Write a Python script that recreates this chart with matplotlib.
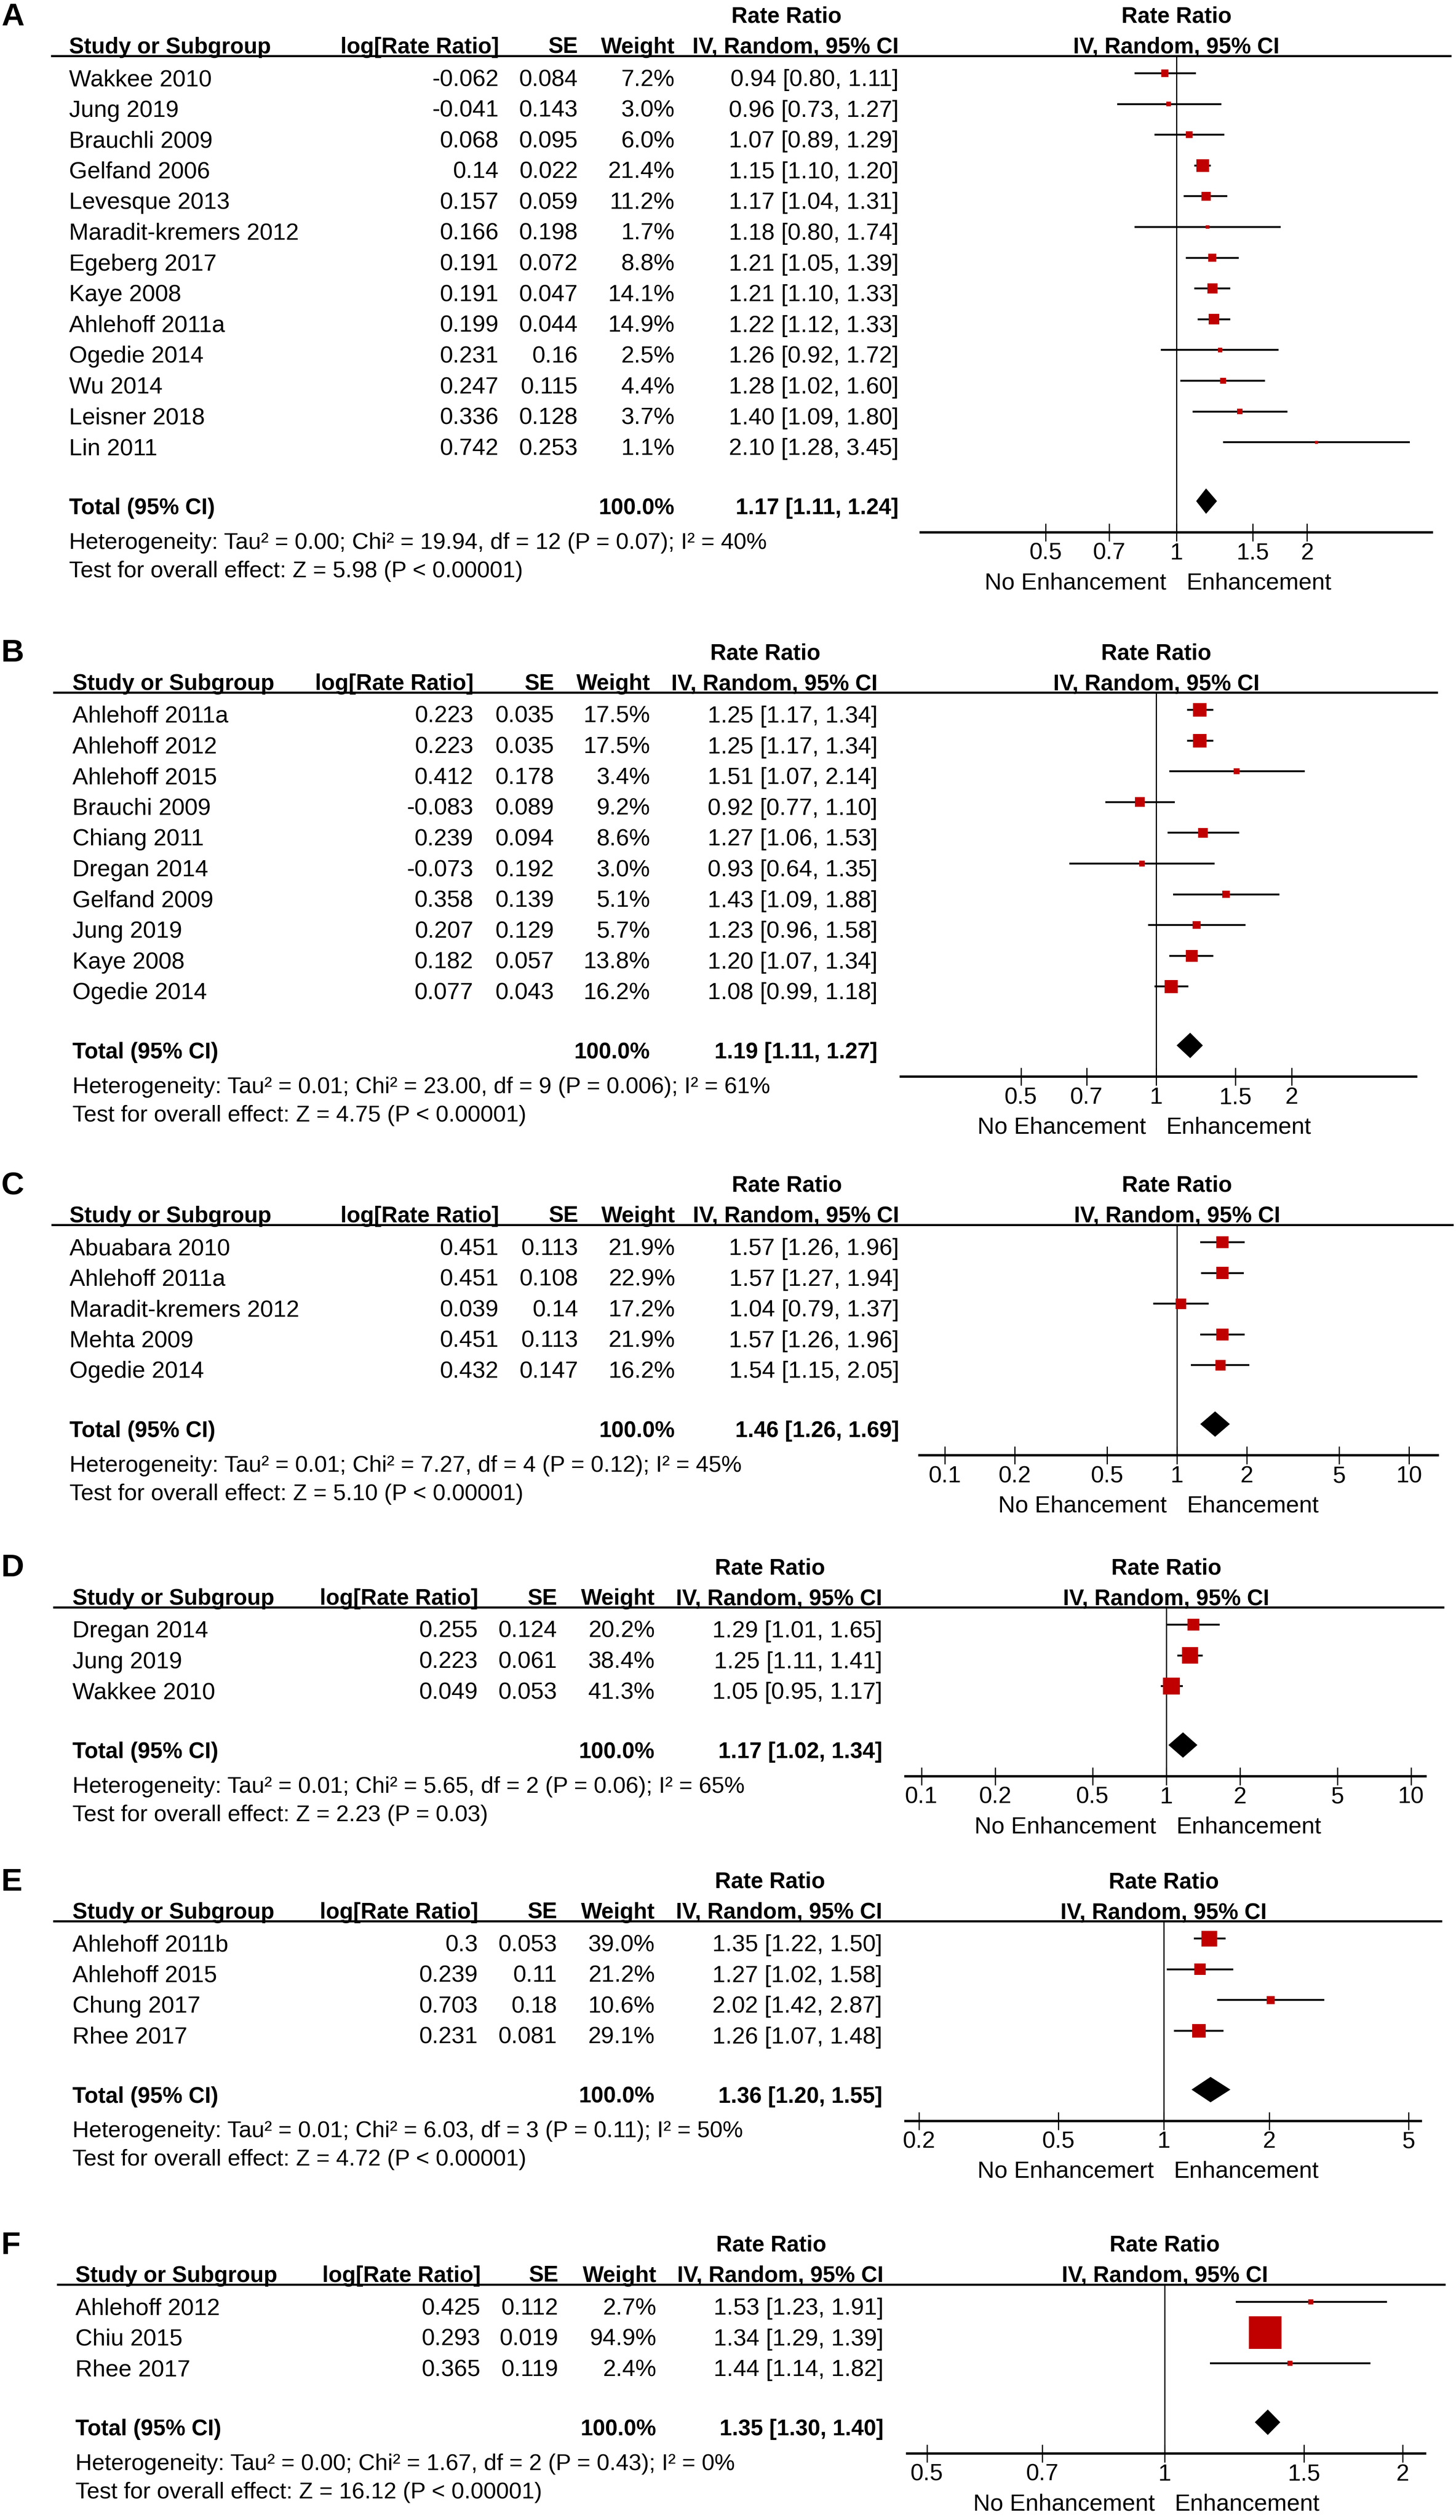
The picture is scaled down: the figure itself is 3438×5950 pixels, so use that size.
import numpy as np
import matplotlib.pyplot as plt
from matplotlib.ticker import NullLocator

plt.rcParams['font.family'] = ['Liberation Sans', 'DejaVu Sans']

W, H = 3438, 5950

# ---------------- data ----------------
a_studies = ["Wakkee 2010", "Jung 2019", "Brauchli 2009", "Gelfand 2006", "Levesque 2013",
             "Maradit-kremers 2012", "Egeberg 2017", "Kaye 2008", "Ahlehoff 2011a",
             "Ogedie 2014", "Wu 2014", "Leisner 2018", "Lin 2011"]
a_logrr = ["-0.062", "-0.041", "0.068", "0.14", "0.157", "0.166", "0.191", "0.191",
           "0.199", "0.231", "0.247", "0.336", "0.742"]
a_se = ["0.084", "0.143", "0.095", "0.022", "0.059", "0.198", "0.072", "0.047",
        "0.044", "0.16", "0.115", "0.128", "0.253"]
a_weight = [7.2, 3.0, 6.0, 21.4, 11.2, 1.7, 8.8, 14.1, 14.9, 2.5, 4.4, 3.7, 1.1]
a_rr = [0.94, 0.96, 1.07, 1.15, 1.17, 1.18, 1.21, 1.21, 1.22, 1.26, 1.28, 1.40, 2.10]
a_lo = [0.80, 0.73, 0.89, 1.10, 1.04, 0.80, 1.05, 1.10, 1.12, 0.92, 1.02, 1.09, 1.28]
a_hi = [1.11, 1.27, 1.29, 1.20, 1.31, 1.74, 1.39, 1.33, 1.33, 1.72, 1.60, 1.80, 3.45]
a_total = (1.17, 1.11, 1.24)
a_het = "Heterogeneity: Tau² = 0.00; Chi² = 19.94, df = 12 (P = 0.07); I² = 40%"
a_test = "Test for overall effect: Z = 5.98 (P < 0.00001)"
a_ticks = [0.5, 0.7, 1, 1.5, 2]
a_ticklabels = ["0.5", "0.7", "1", "1.5", "2"]
a_favours = ("No Enhancement", "Enhancement")

b_studies = ["Ahlehoff 2011a", "Ahlehoff 2012", "Ahlehoff 2015", "Brauchi 2009", "Chiang 2011",
             "Dregan 2014", "Gelfand 2009", "Jung 2019", "Kaye 2008", "Ogedie 2014"]
b_logrr = ["0.223", "0.223", "0.412", "-0.083", "0.239", "-0.073", "0.358", "0.207", "0.182", "0.077"]
b_se = ["0.035", "0.035", "0.178", "0.089", "0.094", "0.192", "0.139", "0.129", "0.057", "0.043"]
b_weight = [17.5, 17.5, 3.4, 9.2, 8.6, 3.0, 5.1, 5.7, 13.8, 16.2]
b_rr = [1.25, 1.25, 1.51, 0.92, 1.27, 0.93, 1.43, 1.23, 1.20, 1.08]
b_lo = [1.17, 1.17, 1.07, 0.77, 1.06, 0.64, 1.09, 0.96, 1.07, 0.99]
b_hi = [1.34, 1.34, 2.14, 1.10, 1.53, 1.35, 1.88, 1.58, 1.34, 1.18]
b_total = (1.19, 1.11, 1.27)
b_het = "Heterogeneity: Tau² = 0.01; Chi² = 23.00, df = 9 (P = 0.006); I² = 61%"
b_test = "Test for overall effect: Z = 4.75 (P < 0.00001)"
b_ticks = [0.5, 0.7, 1, 1.5, 2]
b_ticklabels = ["0.5", "0.7", "1", "1.5", "2"]
b_favours = ("No Ehancement", "Enhancement")

c_studies = ["Abuabara 2010", "Ahlehoff 2011a", "Maradit-kremers 2012", "Mehta 2009", "Ogedie 2014"]
c_logrr = ["0.451", "0.451", "0.039", "0.451", "0.432"]
c_se = ["0.113", "0.108", "0.14", "0.113", "0.147"]
c_weight = [21.9, 22.9, 17.2, 21.9, 16.2]
c_rr = [1.57, 1.57, 1.04, 1.57, 1.54]
c_lo = [1.26, 1.27, 0.79, 1.26, 1.15]
c_hi = [1.96, 1.94, 1.37, 1.96, 2.05]
c_total = (1.46, 1.26, 1.69)
c_het = "Heterogeneity: Tau² = 0.01; Chi² = 7.27, df = 4 (P = 0.12); I² = 45%"
c_test = "Test for overall effect: Z = 5.10 (P < 0.00001)"
c_ticks = [0.1, 0.2, 0.5, 1, 2, 5, 10]
c_ticklabels = ["0.1", "0.2", "0.5", "1", "2", "5", "10"]
c_favours = ("No Ehancement", "Ehancement")

d_studies = ["Dregan 2014", "Jung 2019", "Wakkee 2010"]
d_logrr = ["0.255", "0.223", "0.049"]
d_se = ["0.124", "0.061", "0.053"]
d_weight = [20.2, 38.4, 41.3]
d_rr = [1.29, 1.25, 1.05]
d_lo = [1.01, 1.11, 0.95]
d_hi = [1.65, 1.41, 1.17]
d_total = (1.17, 1.02, 1.34)
d_het = "Heterogeneity: Tau² = 0.01; Chi² = 5.65, df = 2 (P = 0.06); I² = 65%"
d_test = "Test for overall effect: Z = 2.23 (P = 0.03)"
d_ticks = [0.1, 0.2, 0.5, 1, 2, 5, 10]
d_ticklabels = ["0.1", "0.2", "0.5", "1", "2", "5", "10"]
d_favours = ("No Enhancement", "Enhancement")

e_studies = ["Ahlehoff 2011b", "Ahlehoff 2015", "Chung 2017", "Rhee 2017"]
e_logrr = ["0.3", "0.239", "0.703", "0.231"]
e_se = ["0.053", "0.11", "0.18", "0.081"]
e_weight = [39.0, 21.2, 10.6, 29.1]
e_rr = [1.35, 1.27, 2.02, 1.26]
e_lo = [1.22, 1.02, 1.42, 1.07]
e_hi = [1.50, 1.58, 2.87, 1.48]
e_total = (1.36, 1.20, 1.55)
e_het = "Heterogeneity: Tau² = 0.01; Chi² = 6.03, df = 3 (P = 0.11); I² = 50%"
e_test = "Test for overall effect: Z = 4.72 (P < 0.00001)"
e_ticks = [0.2, 0.5, 1, 2, 5]
e_ticklabels = ["0.2", "0.5", "1", "2", "5"]
e_favours = ("No Enhancemert", "Enhancement")

f_studies = ["Ahlehoff 2012", "Chiu 2015", "Rhee 2017"]
f_logrr = ["0.425", "0.293", "0.365"]
f_se = ["0.112", "0.019", "0.119"]
f_weight = [2.7, 94.9, 2.4]
f_rr = [1.53, 1.34, 1.44]
f_lo = [1.23, 1.29, 1.14]
f_hi = [1.91, 1.39, 1.82]
f_total = (1.35, 1.30, 1.40)
f_het = "Heterogeneity: Tau² = 0.00; Chi² = 1.67, df = 2 (P = 0.43); I² = 0%"
f_test = "Test for overall effect: Z = 16.12 (P < 0.00001)"
f_ticks = [0.5, 0.7, 1, 1.5, 2]
f_ticklabels = ["0.5", "0.7", "1", "1.5", "2"]
f_favours = ("No Enhancement", "Enhancement")

panels = [
    ("A", a_studies, a_logrr, a_se, a_weight, a_rr, a_lo, a_hi, a_total, a_het, a_test, a_ticks, a_ticklabels, a_favours),
    ("B", b_studies, b_logrr, b_se, b_weight, b_rr, b_lo, b_hi, b_total, b_het, b_test, b_ticks, b_ticklabels, b_favours),
    ("C", c_studies, c_logrr, c_se, c_weight, c_rr, c_lo, c_hi, c_total, c_het, c_test, c_ticks, c_ticklabels, c_favours),
    ("D", d_studies, d_logrr, d_se, d_weight, d_rr, d_lo, d_hi, d_total, d_het, d_test, d_ticks, d_ticklabels, d_favours),
    ("E", e_studies, e_logrr, e_se, e_weight, e_rr, e_lo, e_hi, e_total, e_het, e_test, e_ticks, e_ticklabels, e_favours),
    ("F", f_studies, f_logrr, f_se, f_weight, f_rr, f_lo, f_hi, f_total, f_het, f_test, f_ticks, f_ticklabels, f_favours),
]

# ---------------- layout (pixels) ----------------
# header line y, column x (study, log, se, weight, ci), header line x-range, axis x-range, xlim, max square
layout = {
    "A": dict(line_y=132, cols=(163, 1178, 1365, 1593, 2122), line_x=(120, 3427),
              ax_x=(2174, 3381), xlim=(0.2574, 3.877), sq=30),
    "B": dict(line_y=1635, cols=(171, 1118, 1309, 1535, 2072), line_x=(125, 3395),
              ax_x=(2127, 3344), xlim=(0.270, 3.79), sq=32),
    "C": dict(line_y=2892, cols=(164, 1178, 1366, 1594, 2123), line_x=(121, 3432),
              ax_x=(2171, 3395), xlim=(0.0777, 13.3), sq=29),
    "D": dict(line_y=3795, cols=(171, 1129, 1316, 1546, 2083), line_x=(125, 3410),
              ax_x=(2138, 3366), xlim=(0.0860, 11.45), sq=40),
    "E": dict(line_y=4536, cols=(171, 1129, 1316, 1546, 2083), line_x=(125, 3405),
              ax_x=(2138, 3355), xlim=(0.183, 5.42), sq=37),
    "F": dict(line_y=5394, cols=(178, 1135, 1319, 1550, 2086), line_x=(134, 3413),
              ax_x=(2142, 3365), xlim=(0.472, 2.135), sq=77),
}
ROW = 72.6
RED = "#c00000"
FS = 40
FS_B = 38

fig = plt.figure(figsize=(W / 100, H / 100), dpi=100)
bg = fig.add_axes([0, 0, 1, 1])
bg.set_xlim(0, W)
bg.set_ylim(H, 0)
bg.axis("off")


def txt(x, y, s, ha="left", bold=False, size=None, ax=None):
    # y is the visual centre of the capital letters
    a = ax if ax is not None else bg
    fs = size if size else (FS_B if bold else FS)
    a.text(x, y + 0.36 * fs * 100 / 72, s, ha=ha, va="baseline", fontsize=fs,
           fontweight="bold" if bold else "normal", color="black")


for (letter, studies, logrr, se, weight, rr, lo, hi, total, het, test,
     ticks, ticklabels, favours) in panels:
    L = layout[letter]
    ly = L["line_y"]
    xs, xlog, xse, xw, xci = L["cols"]
    n = len(studies)
    rows = ly + 51 + ROW * np.arange(n)
    total_y = rows[-1] + 141
    axis_y = total_y + 62

    # panel letter and headers
    bg.text(3, ly - 92, letter, fontsize=54, fontweight="bold", va="center", ha="left")
    txt(xci - 265, ly - 97, "Rate Ratio", ha="center", bold=True)
    txt(xs, ly - 25, "Study or Subgroup", bold=True)
    txt(xlog, ly - 25, "log[Rate Ratio]", ha="right", bold=True)
    txt(xse, ly - 25, "SE", ha="right", bold=True)
    txt(xw, ly - 25, "Weight", ha="right", bold=True)
    txt(xci, ly - 25, "IV, Random, 95% CI", ha="right", bold=True)
    bg.hlines(ly, L["line_x"][0], L["line_x"][1], color="black", lw=3.6)

    # table rows
    for i in range(n):
        txt(xs, rows[i], studies[i])
        txt(xlog, rows[i], logrr[i], ha="right")
        txt(xse, rows[i], se[i], ha="right")
        txt(xw, rows[i], f"{weight[i]:.1f}%", ha="right")
        txt(xci, rows[i], f"{rr[i]:.2f} [{lo[i]:.2f}, {hi[i]:.2f}]", ha="right")

    txt(xs, total_y, "Total (95% CI)", bold=True)
    txt(xw, total_y, "100.0%", ha="right", bold=True)
    txt(xci, total_y, f"{total[0]:.2f} [{total[1]:.2f}, {total[2]:.2f}]", ha="right", bold=True)
    txt(xs, total_y + 81, het, size=39)
    txt(xs, total_y + 148, test, size=39)

    # forest plot axes, y in the same pixel units as the page
    top = ly - 140
    bot = axis_y + 175
    x0, x1 = L["ax_x"]
    ax = fig.add_axes([x0 / W, 1 - bot / H, (x1 - x0) / W, (bot - top) / H])
    ax.set_xscale("log")
    ax.set_xlim(*L["xlim"])
    ax.set_ylim(bot, top)
    ax.patch.set_alpha(0)

    my = rows - 10
    ax.hlines(my, lo, hi, color="black", lw=3.2, zorder=2)
    w = np.array(weight)
    side_px = L["sq"] * np.sqrt(w / w.max())
    ax.scatter(rr, my, s=(side_px * 0.72) ** 2, marker="s", color=RED,
               edgecolors="none", zorder=3)
    ty = total_y - 12
    ax.fill([total[1], total[0], total[2], total[0]], [ty, ty - 30, ty, ty + 30],
            color="black", lw=0, zorder=3)
    ax.vlines(1, ly, axis_y, color="black", lw=2, zorder=1)

    txt(1, ly - 97, "Rate Ratio", ha="center", bold=True, ax=ax)
    txt(1, ly - 25, "IV, Random, 95% CI", ha="center", bold=True, ax=ax)
    ax.annotate(favours[0], xy=(1, axis_y + 120), xytext=(-17, 0), textcoords="offset points",
                ha="right", va="center", fontsize=FS)
    ax.annotate(favours[1], xy=(1, axis_y + 120), xytext=(17, 0), textcoords="offset points",
                ha="left", va="center", fontsize=FS)

    for s in ("top", "left", "right"):
        ax.spines[s].set_visible(False)
    ax.spines["bottom"].set_position(("data", axis_y))
    ax.spines["bottom"].set_linewidth(4)
    ax.set_yticks([])
    ax.set_xticks(ticks)
    ax.set_xticklabels(ticklabels)
    ax.xaxis.set_minor_locator(NullLocator())
    ax.tick_params(axis="x", direction="inout", length=30, width=2, pad=2, labelsize=FS)

fig.savefig("out.png", dpi=100)
